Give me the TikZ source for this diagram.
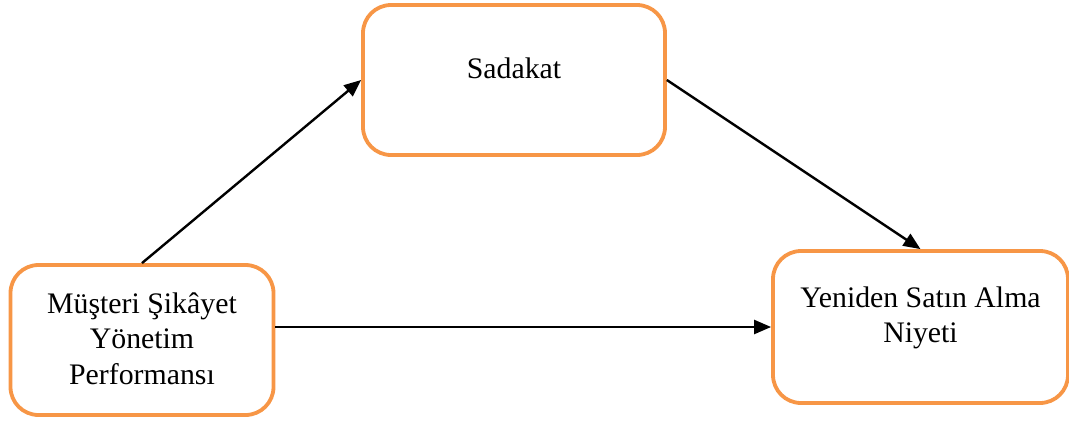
\documentclass[tikz,border=0pt]{standalone}
\usepackage{fontspec}
\setmainfont{Liberation Serif}
\usetikzlibrary{arrows.meta,calc}
\definecolor{boxorange}{HTML}{F79646}
\begin{document}
\begin{tikzpicture}[x=1pt,y=-1pt,
  box/.style={draw=boxorange,line width=3.8pt,rounded corners=28pt,fill=white,inner sep=0pt},
  lbl/.style={font=\fontsize{29.8}{35.5}\selectfont,align=center,inner sep=0pt,anchor=base},
  conn/.style={line width=2.4pt,-{Triangle[length=17pt,width=14pt]}}]
\useasboundingbox (0,0) rectangle (1069,421);
\node[box,minimum width=302pt,minimum height=150pt] (S) at (514,80) {};
\node[box,minimum width=263pt,minimum height=150pt] (L) at (142,340) {};
\node[box,minimum width=295pt,minimum height=152pt] (R) at (920.5,327) {};
\node[lbl] (ts) at (514,78) {Sadakat};
\node[lbl] (tl1) at (142,313) {Müşteri Şikâyet};
\node[lbl] (tl2) at (142,348.5) {Yönetim};
\node[lbl] (tl3) at (142,384) {Performansı};
\node[lbl] (tr1) at (920.5,307) {Yeniden Satın Alma};
\node[lbl] (tr2) at (920.5,342.5) {Niyeti};
\draw[conn] (L.north) -- (S.west);
\draw[conn] (S.east) -- (R.north);
\draw[conn] (L.east |- R.west) -- (R.west);
\end{tikzpicture}
\end{document}
